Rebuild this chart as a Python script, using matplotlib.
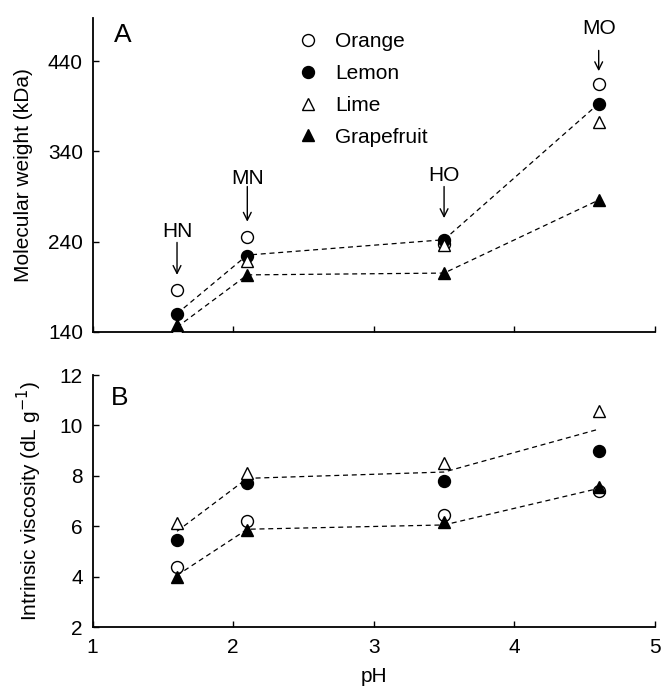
import matplotlib
matplotlib.use("Agg")
import matplotlib.pyplot as plt

plt.rcParams['font.family'] = ['Liberation Sans', 'DejaVu Sans']

ph = [1.6, 2.1, 3.5, 4.6]

# panel A - molecular weight (kDa)
mw_orange = [186, 245, 237, 415]
mw_lemon = [160, 224, 242, 393]
mw_lime = [144, 218, 236, 373]
mw_grapefruit = [147, 203, 205, 286]
mw_trend_hi = [160, 225, 242, 393]
mw_trend_lo = [145, 203, 205, 286]

# panel B - intrinsic viscosity (dL/g)
iv_orange = [4.39, 6.22, 6.44, 7.41]
iv_lemon = [5.45, 7.73, 7.81, 9.0]
iv_lime = [6.14, 8.1, 8.5, 10.58]
iv_grapefruit = [4.0, 5.85, 6.15, 7.55]
iv_trend_hi = [5.8, 7.9, 8.15, 9.85]
iv_trend_lo = [4.05, 5.88, 6.05, 7.5]

# arrow labels over panel A: (label, text y, arrow tail y, arrow head y)
tags = ['HN', 'MN', 'HO', 'MO']
tag_text_y = [251, 310, 313, 476]
tag_tail_y = [239, 301, 301, 452]
tag_head_y = [203, 262, 266, 429]

series = [
    ('Orange', 'o', 'white'),
    ('Lemon', 'o', 'black'),
    ('Lime', '^', 'white'),
    ('Grapefruit', '^', 'black'),
]

fig = plt.figure(figsize=(6.63, 6.91), dpi=100)
axA = fig.add_axes([0.1398, 0.520, 0.848, 0.454])
axB = fig.add_axes([0.1398, 0.0926, 0.848, 0.3647])

def style(ax):
    for s in ['top', 'right']:
        ax.spines[s].set_visible(False)
    for s in ['left', 'bottom']:
        ax.spines[s].set_linewidth(1.3)
    ax.tick_params(direction='in', length=4.5, width=1, labelsize=15)
    ax.tick_params(axis='y', pad=7)
    ax.tick_params(axis='x', pad=8)
    ax.set_xlim(1, 5)
    ax.set_xticks([1, 2, 3, 4, 5])

dash = dict(color='black', lw=0.9, ls=(0, (4, 3)), zorder=1)
mk = dict(ls='none', ms=8.6, mec='black', mew=1, zorder=3)

# panel A
style(axA)
axA.plot(ph, mw_trend_hi, **dash)
axA.plot(ph, mw_trend_lo, **dash)
for (name, m, fc), vals in zip(series, [mw_orange, mw_lemon, mw_lime, mw_grapefruit]):
    axA.plot(ph, vals, marker=m, mfc=fc, label=name, **mk)
axA.set_ylim(140, 488)
axA.set_yticks([140, 240, 340, 440])
axA.tick_params(axis='x', labelbottom=False)
axA.set_ylabel('Molecular weight (kDa)', fontsize=15, labelpad=11)
axA.text(0.038, 0.985, 'A', transform=axA.transAxes, fontsize=19, va='top', ha='left')
for x, t, ty, y0, y1 in zip(ph, tags, tag_text_y, tag_tail_y, tag_head_y):
    axA.text(x, ty, t, fontsize=15, ha='center', va='center')
    axA.annotate('', xy=(x, y1), xytext=(x, y0),
                 arrowprops=dict(arrowstyle='->', lw=1, color='black',
                                 shrinkA=0, shrinkB=0, mutation_scale=14))
axA.legend(loc='upper left', bbox_to_anchor=(298 / 663, 1 - 32 / 691),
           bbox_transform=fig.transFigure, frameon=False, fontsize=15,
           handlelength=1, handletextpad=0.8, labelspacing=0.62,
           borderpad=0, borderaxespad=0, numpoints=1)

# panel B
style(axB)
axB.plot(ph, iv_trend_hi, **dash)
axB.plot(ph, iv_trend_lo, **dash)
for (name, m, fc), vals in zip(series, [iv_orange, iv_lemon, iv_lime, iv_grapefruit]):
    axB.plot(ph, vals, marker=m, mfc=fc, **mk)
axB.set_ylim(2, 12)
axB.set_yticks([2, 4, 6, 8, 10, 12])
axB.set_xlabel('pH', fontsize=15, labelpad=7)
axB.set_ylabel('Intrinsic viscosity (dL g$^{-1}$)', fontsize=15, labelpad=11)
axB.text(0.032, 0.955, 'B', transform=axB.transAxes, fontsize=19, va='top', ha='left')

fig.savefig('out.png', dpi=100)
